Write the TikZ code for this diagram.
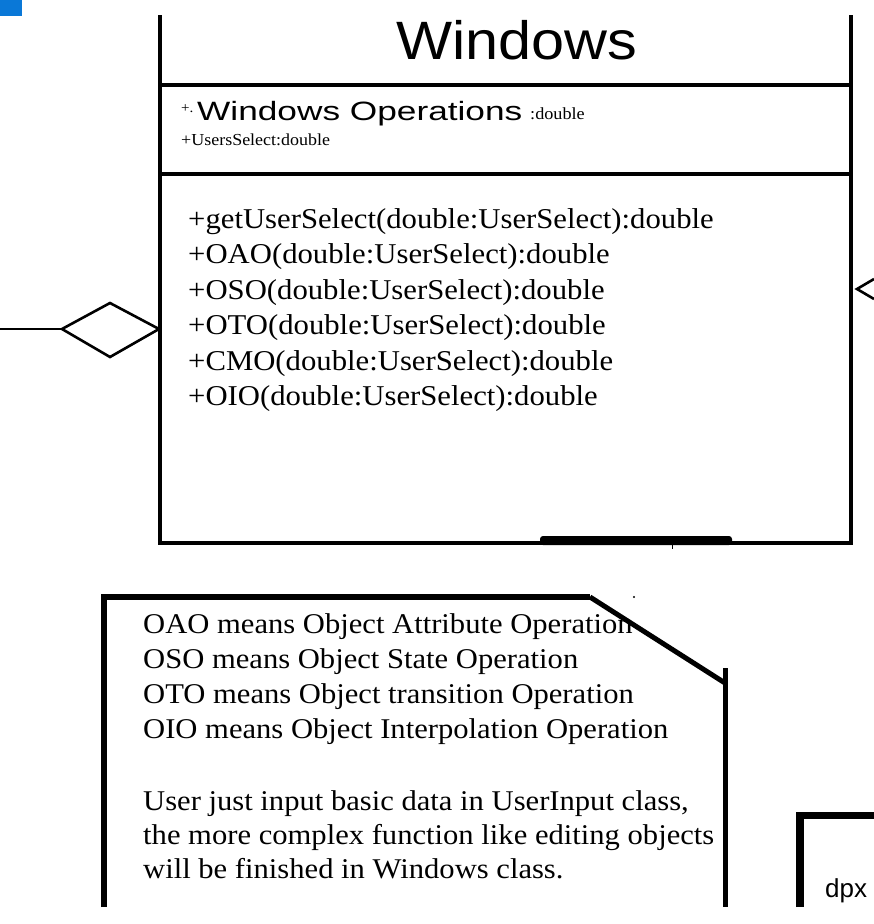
\documentclass[tikz,border=0pt]{standalone}
\usepackage{fontspec}
\setmainfont{Liberation Serif}
\newfontfamily\titlefont[FakeStretch=1.1]{Liberation Sans}
\newfontfamily\wideops[FakeStretch=1.33]{Liberation Sans}
\newfontfamily\sansplain{Liberation Sans}
\newfontfamily\tms[FakeStretch=1.07]{Liberation Serif}
\definecolor{cornerblue}{HTML}{0A78D7}
\tikzset{
  txt/.style={inner sep=0pt, anchor=base west},
  meth/.style={txt, font=\tms\fontsize{28.7}{33}\selectfont},
  notetxt/.style={txt, font=\tms\fontsize{28.6}{33}\selectfont},
  border/.style={line width=4.5pt, line cap=rect},
  thin/.style={line width=2.6pt, line join=miter},
  notebd/.style={line width=6pt},
}
\begin{document}
\begin{tikzpicture}[x=1pt,y=-1pt]
\useasboundingbox (0,0) rectangle (874,924);
\fill[white] (0,0) rectangle (874,924);
% corner blue square
\fill[cornerblue] (0,0) rectangle (22,16);

% class box
\coordinate (tl) at (160,17);
\coordinate (tr) at (851,17);
\coordinate (bl) at (160,543);
\coordinate (br) at (851,543);
\draw[border] (tl) -- (bl) -- (br) -- (tr);
\coordinate (s1l) at (160,85);
\coordinate (s1r) at (851,85);
\coordinate (s2l) at (160,174);
\coordinate (s2r) at (851,174);
\draw[border] (s1l) -- (s1r);
\draw[border] (s2l) -- (s2r);
% thick bar on bottom edge
\fill[rounded corners=3pt] (540,545) rectangle (732,536);
\draw[line width=1pt] (672,543) -- (672,549);

\node[txt, font=\titlefont\fontsize{54}{54}\selectfont] (title) at (396,59) {Windows};

\node[txt, font=\tms\fontsize{14}{14}\selectfont] (plus) at (181,112) {+.};
\node[txt, font=\wideops\fontsize{26.5}{26.5}\selectfont] (ops) at (197,120) {Windows Operations};
\node[txt, font=\tms\fontsize{17}{17}\selectfont] (opsd) at (530,119) {:double};
\node[txt, font=\tms\fontsize{16.8}{16.8}\selectfont] (us) at (181,145) {+UsersSelect:double};

\node[meth] (m1) at (188,228) {+getUserSelect(double:UserSelect):double};
\node[meth] (m2) at (188,263.5) {+OAO(double:UserSelect):double};
\node[meth] (m3) at (188,299) {+OSO(double:UserSelect):double};
\node[meth] (m4) at (188,334.5) {+OTO(double:UserSelect):double};
\node[meth] (m5) at (188,370) {+CMO(double:UserSelect):double};
\node[meth] (m6) at (188,405.5) {+OIO(double:UserSelect):double};

% aggregation diamond on left
\coordinate (dl) at (62,329);
\coordinate (dt) at (110,303);
\coordinate (dr) at (159,329);
\coordinate (db) at (110,357);
\coordinate (lend) at (0,329);
\draw[thin] (dl) -- (dt) -- (dr) -- (db) -- cycle;
\draw[thin] (lend) -- (dl);

% open arrow at right
\coordinate (atip) at (857,289);
\coordinate (aup) at (874,279);
\coordinate (adn) at (874,299);
\draw[thin] (aup) -- (atip) -- (adn);

% note box
\coordinate (n1) at (104,907);
\coordinate (n2) at (104,597);
\coordinate (n3) at (590,597);
\coordinate (n4) at (725,683);
\coordinate (n5) at (725,907);
\coordinate (n6) at (725,668);
\draw[notebd] (n1) -- (n2) -- (n3);
\draw[line width=5pt] (n3) -- (n4);
\draw[line width=5pt] (n6) -- (n5);
\fill (634,597) circle (1.1pt);

\node[notetxt] (t1) at (143,633) {OAO means Object Attribute Operation};
\node[notetxt] (t2) at (143,668) {OSO means Object State Operation};
\node[notetxt] (t3) at (143,703) {OTO means Object transition Operation};
\node[notetxt] (t4) at (143,738) {OIO means Object Interpolation Operation};
\node[notetxt] (t5) at (143,810) {User just input basic data in UserInput class,};
\node[notetxt] (t6) at (143,844) {the more complex function like editing objects};
\node[notetxt] (t7) at (143,878) {will be finished in Windows class.};

% dpx box at bottom right
\coordinate (p1) at (800,907);
\coordinate (p2) at (800,815.5);
\coordinate (p3) at (874,815.5);
\draw[line width=7.5pt] (p1) -- (p2) -- (p3);
\node[txt, font=\sansplain\fontsize{26}{26}\selectfont] (dpx) at (825,897) {dpx};
\end{tikzpicture}
\end{document}
